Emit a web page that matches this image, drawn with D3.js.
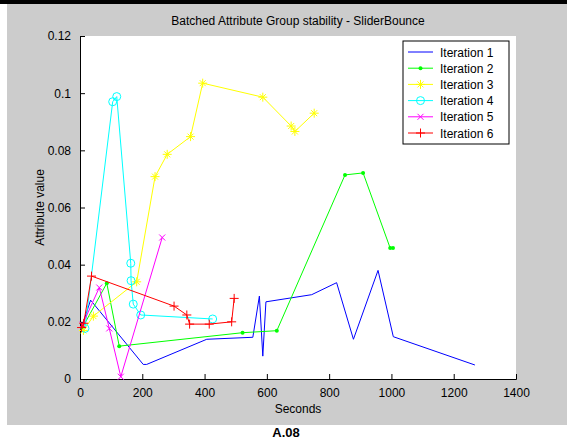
<!DOCTYPE html>
<html>
<head>
<meta charset="utf-8">
<script src="https://cdn.jsdelivr.net/npm/d3@7"></script>
<style>
  body { margin: 0; background: #ffffff; }
  svg { display: block; }
  text { font-family: "Liberation Sans", Arial, sans-serif; }
</style>
</head>
<body>
<svg id="chart" width="567" height="443"></svg>
<script>
// Iteration series: time (seconds) and attribute value
const iter1X = [8, 34, 203, 214, 407, 555, 576, 587, 597, 744, 824, 878, 957, 1006, 1268];
const iter1Y = [0.019, 0.0276, 0.0051, 0.0051, 0.0139, 0.0146, 0.029, 0.008, 0.027, 0.0295, 0.0337, 0.0139, 0.038, 0.0148, 0.0049];

const iter2X = [8, 86, 126, 522, 632, 851, 909, 996, 1005];
const iter2Y = [0.018, 0.0335, 0.0115, 0.0162, 0.0169, 0.0714, 0.0721, 0.0458, 0.0458];

const iter3X = [11, 43, 182, 241, 280, 355, 394, 587, 678, 690, 752];
const iter3Y = [0.017, 0.022, 0.034, 0.0708, 0.0786, 0.0848, 0.1035, 0.0986, 0.0885, 0.0866, 0.093];

const iter4X = [16, 105, 118, 163, 164, 171, 195, 426];
const iter4Y = [0.0177, 0.097, 0.0988, 0.0405, 0.0344, 0.0262, 0.0224, 0.021];

const iter5X = [8, 62, 94, 131, 264];
const iter5Y = [0.019, 0.032, 0.0177, 0.0008, 0.0495];

const iter6X = [5, 12, 37, 302, 343, 352, 415, 487, 495];
const iter6Y = [0.018, 0.0195, 0.036, 0.0255, 0.0224, 0.0192, 0.0192, 0.020, 0.0282];

const seriesNames = ["Iteration 1", "Iteration 2", "Iteration 3", "Iteration 4", "Iteration 5", "Iteration 6"];
const seriesColors = ["#0000ff", "#00ff00", "#ffff00", "#00ffff", "#ff00ff", "#ff0000"];
const seriesMarkers = ["none", "dot", "star", "circle", "cross", "plus"];

const xTicks = [0, 200, 400, 600, 800, 1000, 1200, 1400];
const yTicks = [0, 0.02, 0.04, 0.06, 0.08, 0.1, 0.12];

const titleText = "Batched Attribute Group stability - SliderBounce";
const xLabel = "Seconds";
const yLabel = "Attribute value";
const captionText = "A.08";

const seriesX = [iter1X, iter2X, iter3X, iter4X, iter5X, iter6X];
const seriesY = [iter1Y, iter2Y, iter3Y, iter4Y, iter5Y, iter6Y];

const svg = d3.select("#chart");

// figure frame
svg.append("rect").attr("x", 0).attr("y", 0).attr("width", 567).attr("height", 4).attr("fill", "#000");
svg.append("rect").attr("x", 7).attr("y", 4).attr("width", 560).attr("height", 421).attr("fill", "#cccccc");

const plot = { left: 80, right: 516, top: 36, bottom: 379 };
const x = d3.scaleLinear().domain([0, 1400]).range([plot.left, plot.right]);
const y = d3.scaleLinear().domain([0, 0.12]).range([plot.bottom, plot.top]);

svg.append("rect")
  .attr("x", plot.left).attr("y", plot.top)
  .attr("width", plot.right - plot.left).attr("height", plot.bottom - plot.top)
  .attr("fill", "#fff");

// axes (ticks point inward)
const xAxis = d3.axisBottom(x).tickValues(xTicks).tickSize(-5).tickPadding(9).tickFormat(d3.format("d"));
const yAxis = d3.axisLeft(y).tickValues(yTicks).tickSize(-5).tickPadding(9)
  .tickFormat(d => d === 0 ? "0" : d3.format(".2f")(d).replace(/0$/, d === 0.1 ? "" : "0"));

const gx = svg.append("g").attr("transform", `translate(0,${plot.bottom})`).call(xAxis);
const gy = svg.append("g").attr("transform", `translate(${plot.left},0)`).call(yAxis);
[gx, gy].forEach(g => {
  g.select(".domain").attr("stroke", "#000").attr("stroke-width", 1);
  g.selectAll(".tick line").attr("stroke", "#000");
  g.selectAll(".tick text").attr("font-size", 12).attr("fill", "#000")
    .attr("font-family", "Liberation Sans, Arial, sans-serif");
});
gy.selectAll(".tick text").text(d => d === 0 ? "0" : (d === 0.1 ? "0.1" : d3.format(".2f")(d)));

// lines
const line = d3.line().x(d => x(d[0])).y(d => y(d[1]));
const plotG = svg.append("g");

function drawMarker(g, type, cx, cy, color) {
  const s = 3.5;
  if (type === "dot") {
    g.append("circle").attr("cx", cx).attr("cy", cy).attr("r", 2).attr("fill", color);
  } else if (type === "circle") {
    g.append("circle").attr("cx", cx).attr("cy", cy).attr("r", 4).attr("fill", "none").attr("stroke", color);
  } else if (type === "plus" || type === "star" || type === "cross") {
    const p = d3.path();
    if (type !== "cross") {
      p.moveTo(cx - s - 1, cy); p.lineTo(cx + s + 1, cy);
      p.moveTo(cx, cy - s - 1); p.lineTo(cx, cy + s + 1);
    }
    if (type !== "plus") {
      const d = type === "cross" ? 3 : 3;
      p.moveTo(cx - d, cy - d); p.lineTo(cx + d, cy + d);
      p.moveTo(cx - d, cy + d); p.lineTo(cx + d, cy - d);
    }
    g.append("path").attr("d", p.toString()).attr("stroke", color).attr("fill", "none").attr("stroke-width", 1);
  }
}

seriesX.forEach((xs, i) => {
  const pts = xs.map((v, j) => [v, seriesY[i][j]]);
  plotG.append("path").datum(pts).attr("d", line)
    .attr("fill", "none").attr("stroke", seriesColors[i]).attr("stroke-width", 1);
  if (seriesMarkers[i] !== "none") {
    pts.forEach(p => drawMarker(plotG, seriesMarkers[i], x(p[0]), y(p[1]), seriesColors[i]));
  }
});

// legend
const leg = svg.append("g");
leg.append("rect").attr("x", 403).attr("y", 41).attr("width", 106).attr("height", 103)
  .attr("fill", "#fff").attr("stroke", "#000").attr("stroke-width", 1);
seriesNames.forEach((name, i) => {
  const ry = 52 + i * 16.2;
  leg.append("line").attr("x1", 408).attr("x2", 433).attr("y1", ry).attr("y2", ry)
    .attr("stroke", seriesColors[i]);
  if (seriesMarkers[i] !== "none") drawMarker(leg, seriesMarkers[i], 420.5, ry, seriesColors[i]);
  leg.append("text").attr("x", 440).attr("y", ry + 4.5).attr("font-size", 12).attr("fill", "#000").text(name);
});

// titles
svg.append("text").attr("x", (plot.left + plot.right) / 2).attr("y", 25)
  .attr("text-anchor", "middle").attr("font-size", 12).text(titleText);
svg.append("text").attr("x", (plot.left + plot.right) / 2).attr("y", 413)
  .attr("text-anchor", "middle").attr("font-size", 12).text(xLabel);
svg.append("text").attr("transform", `translate(44,${(plot.top + plot.bottom) / 2}) rotate(-90)`)
  .attr("text-anchor", "middle").attr("font-size", 12).text(yLabel);

svg.append("text").attr("x", 286).attr("y", 437).attr("text-anchor", "middle")
  .attr("font-family", "Liberation Mono, Courier New, monospace").attr("font-weight", "bold")
  .attr("font-size", 13).text(captionText);
</script>
</body>
</html>
